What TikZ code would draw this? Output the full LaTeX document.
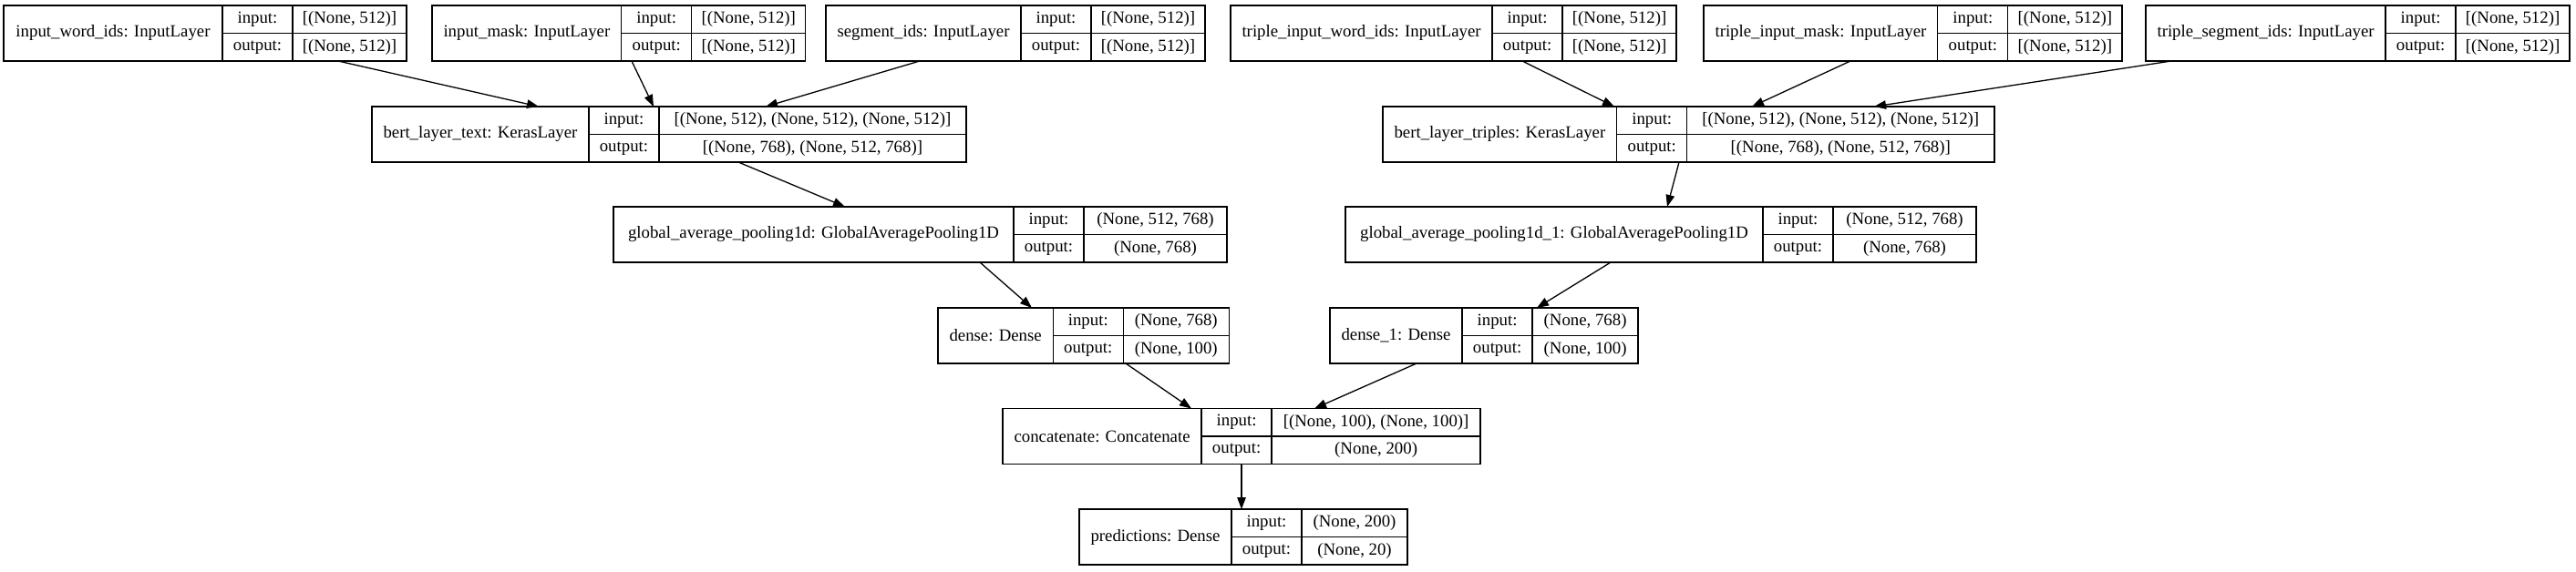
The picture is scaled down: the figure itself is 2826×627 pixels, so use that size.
\documentclass[tikz,border=0pt]{standalone}
\usepackage{fontspec}
\setmainfont{Liberation Serif}
\usetikzlibrary{fit,calc,arrows.meta}
\newcommand\cellfont{\fontsize{18.8pt}{22pt}\selectfont}
\tikzset{
  cell/.style={draw, line width=1.3pt, outer sep=0pt, inner ysep=0pt, font=\cellfont, anchor=north west},
  outerbox/.style={draw, line width=1.5pt, inner sep=0pt, outer sep=0pt},
  edge/.style={line width=1.3pt, -{Triangle[length=13pt,width=9.5pt]}}
}
\newcommand\klayer[8]{%
  \node[cell, minimum height=61pt, inner xsep=12.5pt, minimum width=#8pt] (#1-l) at (#2pt,-#3pt) {#4};
  \node[cell, minimum height=30.5pt, inner xsep=0pt, minimum width=77pt] (#1-ii) at (#1-l.north east) {input:};
  \node[cell, minimum height=30.5pt, inner xsep=0pt, minimum width=77pt] (#1-io) at (#1-ii.south west) {output:};
  \node[cell, minimum height=30.5pt, inner xsep=0pt, minimum width=#7pt] (#1-vi) at (#1-ii.north east) {#5};
  \node[cell, minimum height=30.5pt, inner xsep=0pt, minimum width=#7pt] (#1-vo) at (#1-vi.south west) {#6};
  \node[outerbox, fit=(#1-l)(#1-vo)] (#1) {};
}
\begin{document}
\begin{tikzpicture}
\fill[white] (0,0) rectangle (2826pt,-627pt);
\useasboundingbox (0,0) rectangle (2826pt,-627pt);
% row 1
\klayer{iwi}{4}{6}{input\_word\_ids: InputLayer}{[(None, 512)]}{[(None, 512)]}{125}{240}
\klayer{im}{474}{6}{input\_mask: InputLayer}{[(None, 512)]}{[(None, 512)]}{125}{0}
\klayer{si}{906}{6}{segment\_ids: InputLayer}{[(None, 512)]}{[(None, 512)]}{125}{0}
\klayer{tiwi}{1350}{6}{triple\_input\_word\_ids: InputLayer}{[(None, 512)]}{[(None, 512)]}{125}{0}
\klayer{tim}{1869}{6}{triple\_input\_mask: InputLayer}{[(None, 512)]}{[(None, 512)]}{125}{0}
\klayer{tsi}{2354}{6}{triple\_segment\_ids: InputLayer}{[(None, 512)]}{[(None, 512)]}{125}{261}
% row 2
\klayer{bt}{408}{117}{bert\_layer\_text: KerasLayer}{[(None, 512), (None, 512), (None, 512)]}{[(None, 768), (None, 512, 768)]}{337}{234}
\klayer{btr}{1517}{117}{bert\_layer\_triples: KerasLayer}{[(None, 512), (None, 512), (None, 512)]}{[(None, 768), (None, 512, 768)]}{337}{249}
% row 3
\klayer{gap}{673}{227}{global\_average\_pooling1d: GlobalAveragePooling1D}{(None, 512, 768)}{(None, 768)}{157}{439}
\klayer{gapa}{1476}{227}{global\_average\_pooling1d\_1: GlobalAveragePooling1D}{(None, 512, 768)}{(None, 768)}{157}{458}
% row 4
\klayer{dn}{1029}{338}{dense: Dense}{(None, 768)}{(None, 100)}{116}{123}
\klayer{dna}{1459}{338}{dense\_1: Dense}{(None, 768)}{(None, 100)}{116}{143}
% row 5
\klayer{cc}{1100}{448.5}{concatenate: Concatenate}{[(None, 100), (None, 100)]}{(None, 200)}{229}{213}
% row 6
\klayer{pr}{1184}{559}{predictions: Dense}{(None, 200)}{(None, 20)}{116}{163}
% edges
\draw[edge] ($(iwi.south west)+(367pt,0)$) -- ($(bt.north west)+(183pt,0)$);
\draw[edge] ($(im.south west)+(219pt,0)$) -- ($(bt.north west)+(309pt,0)$);
\draw[edge] ($(si.south west)+(103pt,0)$) -- ($(bt.north west)+(432pt,0)$);
\draw[edge] ($(bt.south west)+(402pt,0)$) -- ($(gap.north west)+(254pt,0)$);
\draw[edge] ($(tiwi.south west)+(320pt,0)$) -- ($(btr.north west)+(254pt,0)$);
\draw[edge] ($(tim.south west)+(161pt,0)$) -- ($(btr.north west)+(405pt,0)$);
\draw[edge] ($(tsi.south west)+(28pt,0)$) -- ($(btr.north west)+(539pt,0)$);
\draw[edge] ($(btr.south west)+(325pt,0)$) -- ($(gapa.north west)+(353pt,0)$);
\draw[edge] ($(gap.south west)+(402pt,0)$) -- ($(dn.north west)+(103pt,0)$);
\draw[edge] ($(gapa.south west)+(291pt,0)$) -- ($(dna.north west)+(227pt,0)$);
\draw[edge] ($(dn.south west)+(206pt,0)$) -- ($(cc.north west)+(207pt,0)$);
\draw[edge] ($(dna.south west)+(95pt,0)$) -- ($(cc.north west)+(342pt,0)$);
\draw[edge] ($(cc.south west)+(262pt,0)$) -- ($(pr.north west)+(178pt,0)$);
\end{tikzpicture}
\end{document}
